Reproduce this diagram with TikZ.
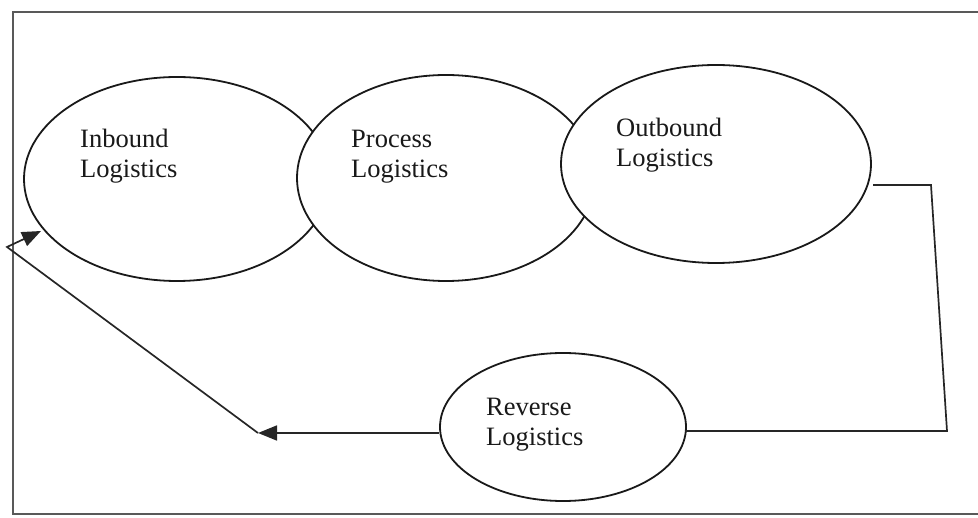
\documentclass[tikz,border=0pt]{standalone}
\usepackage{fontspec}
\setmainfont{Liberation Serif}
\usetikzlibrary{shapes.geometric,arrows.meta}
\tikzset{
  oval/.style={draw=black!90, fill=white, line width=1.8pt, ellipse, inner sep=0pt},
  lbl/.style={anchor=base west, inner sep=0pt, align=left, text=black!90,
              font=\fontsize{26.5}{30.5}\selectfont},
  conn/.style={draw=black!85, line width=1.7pt},
  tip/.style={-{Triangle[length=19pt,width=15pt]}},
  frame/.style={draw=black!65, line width=1.4pt}
}
\begin{document}
\begin{tikzpicture}[x=1pt,y=-1pt]
\useasboundingbox (0,0) rectangle (978,518);
% frame (open at right)
\coordinate (ftr) at (978,12);
\coordinate (ftl) at (13,12);
\coordinate (fbl) at (13,514);
\coordinate (fbr) at (978,514);
\draw[frame] (ftr) -- (ftl) -- (fbl) -- (fbr);
% ellipses (later ones cover earlier ones)
\node[oval, minimum width=306pt, minimum height=204pt] (in)  at (177,179) {};
\node[oval, minimum width=298pt, minimum height=206pt] (pro) at (446,178) {};
\node[oval, minimum width=310pt, minimum height=198pt] (out) at (716,164) {};
\node[oval, minimum width=246pt, minimum height=148pt] (rev) at (563,427) {};
% labels
\node[lbl] (tin)  at (80,178)  {Inbound\\Logistics};
\node[lbl] (tpro) at (351,178) {Process\\Logistics};
\node[lbl] (tout) at (616,167) {Outbound\\Logistics};
\node[lbl] (trev) at (486,446) {Reverse\\Logistics};
% connectors
\coordinate (o1) at (873,185);
\coordinate (o2) at (931,185);
\coordinate (o3) at (947,431);
\coordinate (r1) at (685,431);
\coordinate (a1) at (258,433);
\coordinate (a2) at (7,247);
\coordinate (a3) at (41,231);
\draw[conn] (o1) -- (o2) -- (o3) -- (r1);
\draw[conn, tip] (rev.west |- a1) -- (a1);
\draw[conn, tip] (a1) -- (a2) -- (a3);
\end{tikzpicture}
\end{document}
